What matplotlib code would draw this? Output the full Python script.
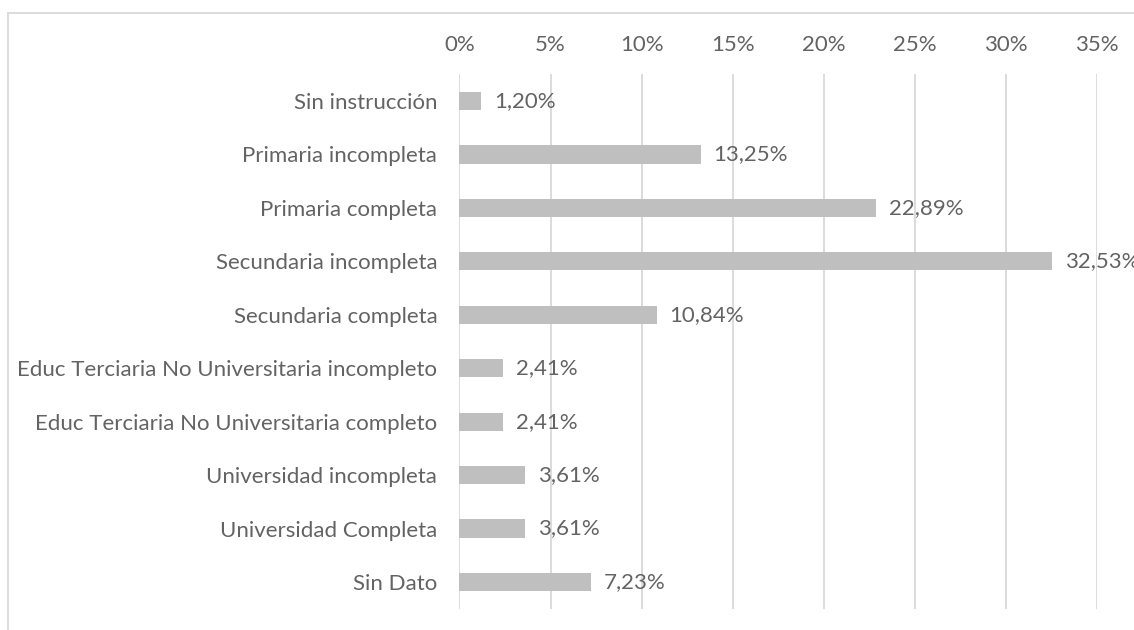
import matplotlib
matplotlib.use('Agg')
import matplotlib.pyplot as plt
from matplotlib.lines import Line2D

# Data
categories = ['Sin instrucción', 'Primaria incompleta', 'Primaria completa',
              'Secundaria incompleta', 'Secundaria completa',
              'Educ Terciaria No Universitaria incompleto',
              'Educ Terciaria No Universitaria completo',
              'Universidad incompleta', 'Universidad Completa', 'Sin Dato']
values = [1.20, 13.25, 22.89, 32.53, 10.84, 2.41, 2.41, 3.61, 3.61, 7.23]
x_ticks = [0, 5, 10, 15, 20, 25, 30, 35]

plt.rcParams['font.family'] = ['Lato', 'DejaVu Sans']
text_color = '#636363'
grid_color = '#D9D9D9'
fs = 16

fig = plt.figure(figsize=(11.34, 6.3), dpi=100)
ax = fig.add_axes([0.4052, 0.0338, 0.5622, 0.8482])

y = list(range(len(categories)))
ax.barh(y, values, height=0.34, color='#BFBFBF', zorder=3)
ax.set_ylim(len(categories) - 0.5, -0.5)
ax.set_xlim(0, 35)

# Ticks on top
ax.xaxis.tick_top()
ax.set_xticks(x_ticks)
ax.set_xticklabels([f'{t}%' for t in x_ticks])
ax.set_yticks(y)
ax.set_yticklabels(categories)
ax.tick_params(axis='both', length=0, colors=text_color, labelsize=fs)
ax.tick_params(axis='x', pad=14)
ax.tick_params(axis='y', pad=16)

ax.grid(axis='x', color=grid_color, linewidth=1.3, zorder=0)
for s in ax.spines.values():
    s.set_visible(False)

# Data labels
for yi, v in zip(y, values):
    ax.annotate(f'{v:.2f}%'.replace('.', ','), (v, yi), xytext=(9, 0),
                textcoords='offset points', va='center', ha='left',
                color=text_color, fontsize=fs, annotation_clip=False)

# Outer chart border (top and left visible)
fig.add_artist(Line2D([8 / 1134, 8 / 1134], [0, 1 - 13 / 630], color=grid_color,
                      linewidth=1.3, transform=fig.transFigure))
fig.add_artist(Line2D([8 / 1134, 1], [1 - 13 / 630, 1 - 13 / 630], color=grid_color,
                      linewidth=1.3, transform=fig.transFigure))

fig.savefig('out.png', dpi=100)
